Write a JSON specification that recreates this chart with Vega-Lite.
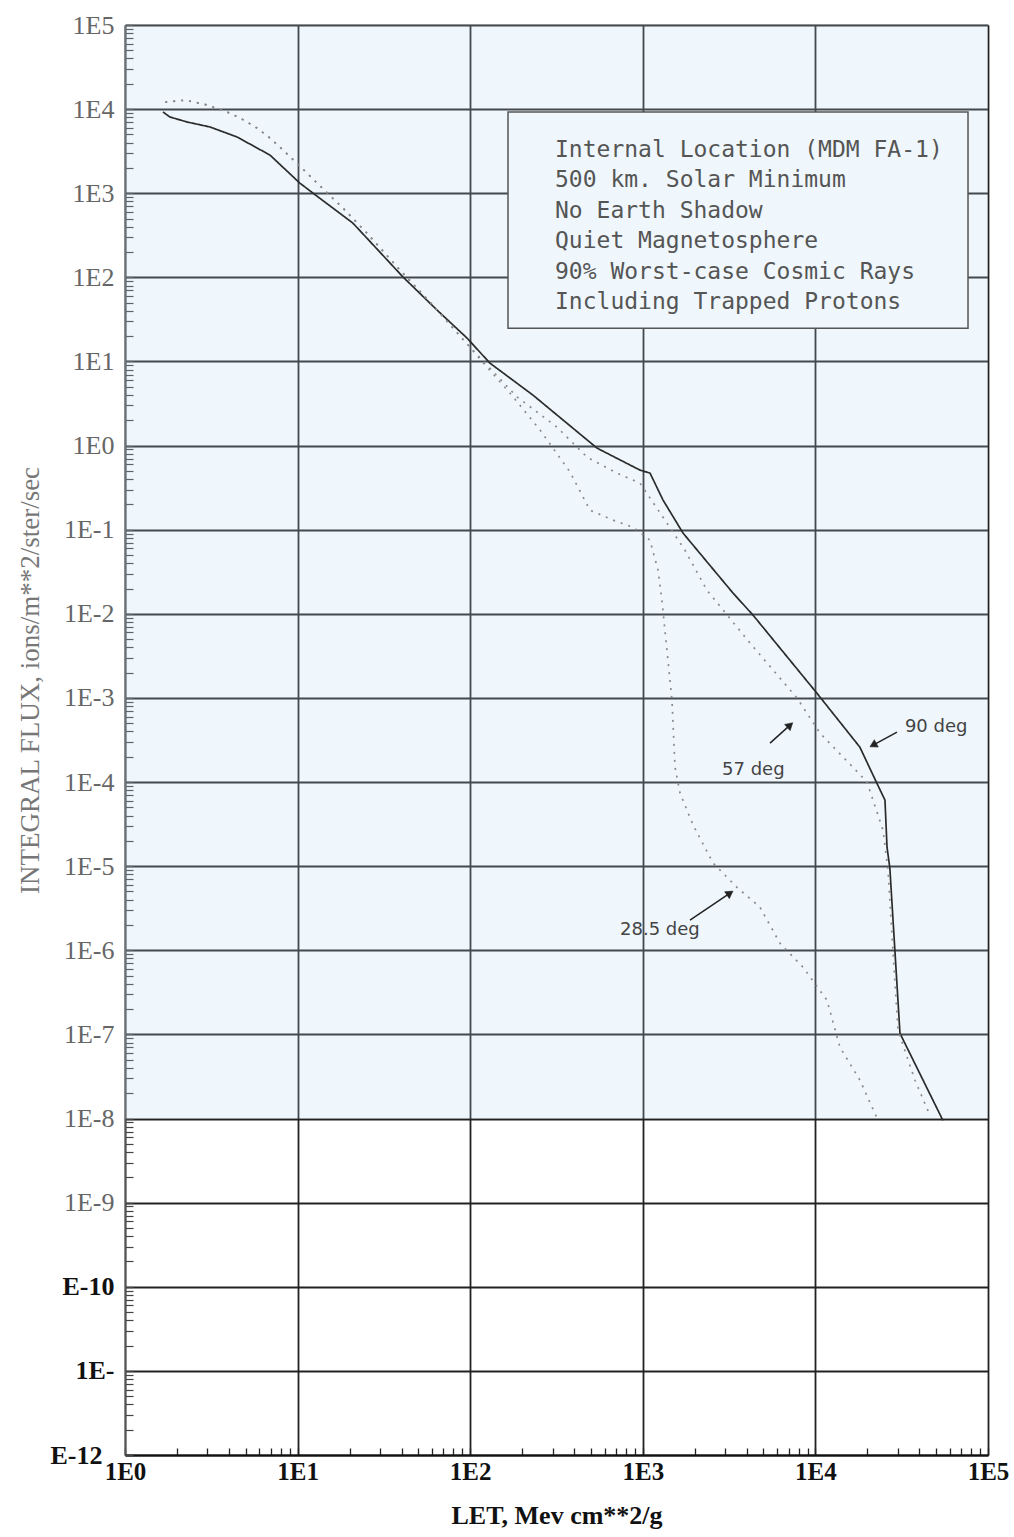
{
  "$schema": "https://vega.github.io/schema/vega-lite/v6.json",
  "width": 863,
  "height": 1430,
  "autosize": {"type": "none"},
  "padding": {"left": 125, "top": 25, "right": 26, "bottom": 82},
  "background": "white",
  "config": {"view": {"stroke": null}},
  "datasets": {
    "curves": [
      {"s": "90 deg", "let": 1.66, "flux": 9250},
      {"s": "90 deg", "let": 1.82, "flux": 8060},
      {"s": "90 deg", "let": 2.29, "flux": 7030},
      {"s": "90 deg", "let": 3.11, "flux": 6130},
      {"s": "90 deg", "let": 4.46, "flux": 4660},
      {"s": "90 deg", "let": 6.92, "flux": 2840},
      {"s": "90 deg", "let": 10.3, "flux": 1320},
      {"s": "90 deg", "let": 12.3, "flux": 1000},
      {"s": "90 deg", "let": 20.9, "flux": 442},
      {"s": "90 deg", "let": 40.8, "flux": 101},
      {"s": "90 deg", "let": 64.2, "flux": 40.9},
      {"s": "90 deg", "let": 95.8, "flux": 19.0},
      {"s": "90 deg", "let": 130, "flux": 9.57},
      {"s": "90 deg", "let": 231, "flux": 3.98},
      {"s": "90 deg", "let": 543, "flux": 0.933},
      {"s": "90 deg", "let": 963, "flux": 0.511},
      {"s": "90 deg", "let": 1101, "flux": 0.471},
      {"s": "90 deg", "let": 1310, "flux": 0.225},
      {"s": "90 deg", "let": 1710, "flux": 0.0912},
      {"s": "90 deg", "let": 3335, "flux": 0.0176},
      {"s": "90 deg", "let": 4350, "flux": 0.00966},
      {"s": "90 deg", "let": 10200, "flux": 0.00114},
      {"s": "90 deg", "let": 18100, "flux": 0.00026},
      {"s": "90 deg", "let": 22700, "flux": 0.000097},
      {"s": "90 deg", "let": 25300, "flux": 0.000061},
      {"s": "90 deg", "let": 26000, "flux": 0.0000168},
      {"s": "90 deg", "let": 27000, "flux": 0.0000095},
      {"s": "90 deg", "let": 30900, "flux": 1.03e-7},
      {"s": "90 deg", "let": 54800, "flux": 9.5e-9},

      {"s": "57 deg", "let": 1.71, "flux": 12100},
      {"s": "57 deg", "let": 2.23, "flux": 12800},
      {"s": "57 deg", "let": 2.99, "flux": 11200},
      {"s": "57 deg", "let": 3.90, "flux": 9250},
      {"s": "57 deg", "let": 4.64, "flux": 7840},
      {"s": "57 deg", "let": 5.82, "flux": 5960},
      {"s": "57 deg", "let": 6.92, "flux": 4530},
      {"s": "57 deg", "let": 8.23, "flux": 3270},
      {"s": "57 deg", "let": 10.3, "flux": 2100},
      {"s": "57 deg", "let": 13.5, "flux": 1220},
      {"s": "57 deg", "let": 18.3, "flux": 667},
      {"s": "57 deg", "let": 25.2, "flux": 336},
      {"s": "57 deg", "let": 39.2, "flux": 122},
      {"s": "57 deg", "let": 58.5, "flux": 50.8},
      {"s": "57 deg", "let": 97.1, "flux": 15.7},
      {"s": "57 deg", "let": 187, "flux": 3.78},
      {"s": "57 deg", "let": 318, "flux": 1.66},
      {"s": "57 deg", "let": 475, "flux": 0.730},
      {"s": "57 deg", "let": 708, "flux": 0.471},
      {"s": "57 deg", "let": 963, "flux": 0.358},
      {"s": "57 deg", "let": 1344, "flux": 0.130},
      {"s": "57 deg", "let": 1755, "flux": 0.0571},
      {"s": "57 deg", "let": 2353, "flux": 0.0191},
      {"s": "57 deg", "let": 4180, "flux": 0.00449},
      {"s": "57 deg", "let": 7820, "flux": 0.001},
      {"s": "57 deg", "let": 10640, "flux": 0.000381},
      {"s": "57 deg", "let": 16510, "flux": 0.000150},
      {"s": "57 deg", "let": 19900, "flux": 0.0001},
      {"s": "57 deg", "let": 24650, "flux": 0.0000268},
      {"s": "57 deg", "let": 26350, "flux": 0.00000896},
      {"s": "57 deg", "let": 28130, "flux": 0.000001},
      {"s": "57 deg", "let": 30100, "flux": 1.12e-7},
      {"s": "57 deg", "let": 37760, "flux": 2.85e-8},
      {"s": "57 deg", "let": 46100, "flux": 1.09e-8},

      {"s": "28.5 deg", "let": 1.71, "flux": 12100},
      {"s": "28.5 deg", "let": 2.23, "flux": 12800},
      {"s": "28.5 deg", "let": 2.99, "flux": 11200},
      {"s": "28.5 deg", "let": 3.90, "flux": 9250},
      {"s": "28.5 deg", "let": 4.64, "flux": 7840},
      {"s": "28.5 deg", "let": 5.82, "flux": 5960},
      {"s": "28.5 deg", "let": 6.92, "flux": 4530},
      {"s": "28.5 deg", "let": 8.23, "flux": 3270},
      {"s": "28.5 deg", "let": 10.3, "flux": 2100},
      {"s": "28.5 deg", "let": 13.5, "flux": 1220},
      {"s": "28.5 deg", "let": 18.3, "flux": 667},
      {"s": "28.5 deg", "let": 25.2, "flux": 336},
      {"s": "28.5 deg", "let": 39.2, "flux": 122},
      {"s": "28.5 deg", "let": 58.5, "flux": 50.8},
      {"s": "28.5 deg", "let": 97.1, "flux": 15.7},
      {"s": "28.5 deg", "let": 125, "flux": 8.57},
      {"s": "28.5 deg", "let": 170, "flux": 4.21},
      {"s": "28.5 deg", "let": 254, "flux": 1.53},
      {"s": "28.5 deg", "let": 379, "flux": 0.484},
      {"s": "28.5 deg", "let": 494, "flux": 0.171},
      {"s": "28.5 deg", "let": 672, "flux": 0.130},
      {"s": "28.5 deg", "let": 878, "flux": 0.107},
      {"s": "28.5 deg", "let": 1100, "flux": 0.0751},
      {"s": "28.5 deg", "let": 1225, "flux": 0.0331},
      {"s": "28.5 deg", "let": 1290, "flux": 0.0146},
      {"s": "28.5 deg", "let": 1380, "flux": 0.0037},
      {"s": "28.5 deg", "let": 1476, "flux": 0.00094},
      {"s": "28.5 deg", "let": 1537, "flux": 0.00015},
      {"s": "28.5 deg", "let": 1643, "flux": 0.000074},
      {"s": "28.5 deg", "let": 1954, "flux": 0.000031},
      {"s": "28.5 deg", "let": 2553, "flux": 0.0000109},
      {"s": "28.5 deg", "let": 3514, "flux": 0.0000056},
      {"s": "28.5 deg", "let": 4776, "flux": 0.00000325},
      {"s": "28.5 deg", "let": 6237, "flux": 0.00000121},
      {"s": "28.5 deg", "let": 8470, "flux": 6.3e-7},
      {"s": "28.5 deg", "let": 11670, "flux": 2.55e-7},
      {"s": "28.5 deg", "let": 13870, "flux": 7.05e-8},
      {"s": "28.5 deg", "let": 18130, "flux": 2.85e-8},
      {"s": "28.5 deg", "let": 22750, "flux": 1.01e-8}
    ],
    "notes": [
      {"label": "90 deg", "let": 33000, "flux": 0.00045},
      {"label": "57 deg", "let": 2877, "flux": 0.000139},
      {"label": "28.5 deg", "let": 738, "flux": 0.00000173}
    ]
  },
  "layer": [
    {
      "data": {"values": [{}]},
      "mark": {"type": "rect", "fill": "#b8dcf0", "opacity": 0.22},
      "encoding": {
        "x": {
          "datum": 1,
          "type": "quantitative",
          "scale": {"type": "log", "domain": [1, 100000], "nice": false},
          "axis": {
            "title": "LET, Mev cm**2/g",
            "tickCount": 60,
            "labelExpr": "abs(log(datum.value)/LN10 - round(log(datum.value)/LN10)) < 0.001 ? '1E' + round(log(datum.value)/LN10) : ''",
            "labelOverlap": false,
            "labelFlush": false,
            "labelFont": "Liberation Serif",
            "labelFontSize": 25,
            "labelFontWeight": "bold",
            "labelColor": "#111111",
            "labelPadding": 11,
            "tickSize": -7,
            "tickColor": "#222222",
            "tickWidth": 1.3,
            "domainColor": "#111111",
            "domainWidth": 2,
            "grid": true,
            "gridColor": "#222222",
            "gridWidth": 1.8,
            "gridOpacity": {"condition": {"test": "abs(log(datum.value)/LN10 - round(log(datum.value)/LN10)) < 0.001", "value": 1}, "value": 0},
            "titleFont": "Liberation Serif",
            "titleFontSize": 26,
            "titleFontWeight": "bold",
            "titleColor": "#111111",
            "titlePadding": 18
          }
        },
        "x2": {"datum": 100000},
        "y": {
          "datum": 1e-8,
          "type": "quantitative",
          "scale": {"type": "log", "domain": [1e-12, 100000], "nice": false},
          "axis": {
            "title": "INTEGRAL FLUX, ions/m**2/ster/sec",
            "tickCount": 200,
            "labelExpr": "(abs(log(datum.value)/LN10 - round(log(datum.value)/LN10)) > 0.001) ? '' : (round(log(datum.value)/LN10) == -10 ? 'E-10' : (round(log(datum.value)/LN10) == -11 ? '1E-' : (round(log(datum.value)/LN10) == -12 ? 'E-12' : '1E' + round(log(datum.value)/LN10))))",
            "labelOverlap": false,
            "labelFlush": false,
            "labelFont": "Liberation Serif",
            "labelFontSize": 26,
            "labelFontWeight": {"condition": {"test": "datum.value < 5e-10", "value": "bold"}, "value": "normal"},
            "labelColor": {"condition": {"test": "datum.value < 5e-10", "value": "#111111"}, "value": "#666666"},
            "labelPadding": {"condition": {"test": "datum.value < 5e-12", "value": 31}, "value": 19},
            "tickSize": -8,
            "tickColor": "#444444",
            "tickWidth": 1.2,
            "domainColor": "#555555",
            "domainWidth": 1.6,
            "grid": true,
            "gridColor": "#222222",
            "gridWidth": 1.8,
            "gridOpacity": {"condition": {"test": "abs(log(datum.value)/LN10 - round(log(datum.value)/LN10)) < 0.001", "value": 1}, "value": 0},
            "titleFont": "Liberation Serif",
            "titleFontSize": 27,
            "titleFontWeight": "normal",
            "titleColor": "#777777",
            "titleX": -95,
            "titleY": 655,
            "titleAngle": 270,
            "titleAlign": "center",
            "titleBaseline": "middle"
          }
        },
        "y2": {"datum": 100000}
      }
    },
    {
      "data": {"values": [{}]},
      "mark": {"type": "rect", "fill": "#eff7fc", "stroke": "#555555", "strokeWidth": 1.5},
      "encoding": {
        "x": {"datum": 165.6, "type": "quantitative"},
        "x2": {"datum": 76600},
        "y": {"datum": 9250, "type": "quantitative"},
        "y2": {"datum": 24.9}
      }
    },
    {
      "data": {"values": [{}]},
      "mark": {
        "type": "text",
        "text": ["Internal Location (MDM FA-1)", "500 km. Solar Minimum", "No Earth Shadow", "Quiet Magnetosphere", "90% Worst-case Cosmic Rays", "Including Trapped Protons"],
        "align": "left",
        "baseline": "alphabetic",
        "font": "DejaVu Sans Mono",
        "fontSize": 23,
        "lineHeight": 30.4,
        "fill": "#555555"
      },
      "encoding": {
        "x": {"datum": 310, "type": "quantitative"},
        "y": {"datum": 2694, "type": "quantitative"}
      }
    },
    {
      "data": {"name": "curves"},
      "mark": {"type": "line", "strokeWidth": 1.7},
      "encoding": {
        "x": {"field": "let", "type": "quantitative"},
        "y": {"field": "flux", "type": "quantitative"},
        "detail": {"field": "s", "type": "nominal"},
        "color": {"field": "s", "type": "nominal", "scale": {"domain": ["90 deg", "57 deg", "28.5 deg"], "range": ["#2b2b2b", "#8a8a8a", "#8a8a8a"]}, "legend": null},
        "strokeDash": {"field": "s", "type": "nominal", "scale": {"domain": ["90 deg", "57 deg", "28.5 deg"], "range": [[1, 0], [2, 6], [2, 6]]}, "legend": null}
      }
    },
    {
      "data": {"name": "notes"},
      "mark": {"type": "text", "align": "left", "baseline": "middle", "font": "DejaVu Sans", "fontSize": 18, "fill": "#444444"},
      "encoding": {
        "x": {"field": "let", "type": "quantitative"},
        "y": {"field": "flux", "type": "quantitative"},
        "text": {"field": "label", "type": "nominal"}
      }
    },
    {
      "data": {"values": [{}]},
      "layer": [
        {"mark": {"type": "rule", "stroke": "#222222", "strokeWidth": 1.5},
         "encoding": {"x": {"datum": 29700, "type": "quantitative"}, "y": {"datum": 0.000392, "type": "quantitative"}, "x2": {"datum": 21600}, "y2": {"datum": 0.000275}}},
        {"mark": {"type": "point", "shape": "triangle-up", "filled": true, "size": 70, "angle": 241.6, "fill": "#222222", "stroke": "#222222", "strokeWidth": 0.5, "opacity": 1},
         "encoding": {"x": {"datum": 21600, "type": "quantitative"}, "y": {"datum": 0.000275, "type": "quantitative"}}},
        {"mark": {"type": "rule", "stroke": "#222222", "strokeWidth": 1.5},
         "encoding": {"x": {"datum": 5460, "type": "quantitative"}, "y": {"datum": 0.00029, "type": "quantitative"}, "x2": {"datum": 7130}, "y2": {"datum": 0.000475}}},
        {"mark": {"type": "point", "shape": "triangle-up", "filled": true, "size": 70, "angle": 48, "fill": "#222222", "stroke": "#222222", "strokeWidth": 0.5, "opacity": 1},
         "encoding": {"x": {"datum": 7130, "type": "quantitative"}, "y": {"datum": 0.000475, "type": "quantitative"}}},
        {"mark": {"type": "rule", "stroke": "#222222", "strokeWidth": 1.5},
         "encoding": {"x": {"datum": 1877, "type": "quantitative"}, "y": {"datum": 0.00000228, "type": "quantitative"}, "x2": {"datum": 3200}, "y2": {"datum": 0.00000478}}},
        {"mark": {"type": "point", "shape": "triangle-up", "filled": true, "size": 70, "angle": 56, "fill": "#222222", "stroke": "#222222", "strokeWidth": 0.5, "opacity": 1},
         "encoding": {"x": {"datum": 3200, "type": "quantitative"}, "y": {"datum": 0.00000478, "type": "quantitative"}}}
      ]
    }
  ]
}
